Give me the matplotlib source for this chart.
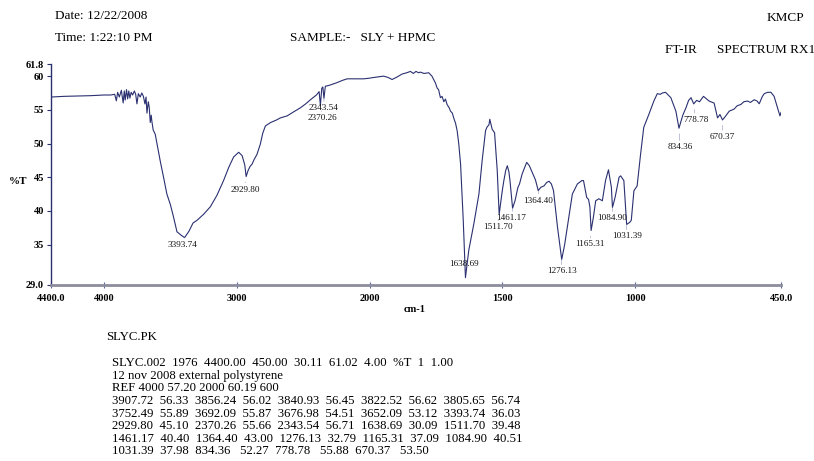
import numpy as np
import matplotlib
matplotlib.use("Agg")
import matplotlib.pyplot as plt

# FT-IR spectrum
wavenumber = [4400, 4300, 4200, 4100, 4000, 3950, 3920, 3907.72, 3898, 3885, 3870, 3856.24,
              3848, 3840.93, 3831, 3822.52, 3814, 3805.65, 3796, 3785, 3772, 3762, 3752.49,
              3742, 3728, 3716, 3704, 3692.09, 3684, 3676.98, 3667, 3660, 3652.09, 3645, 3640,
              3630, 3615, 3600, 3577, 3550, 3527, 3500, 3477, 3451, 3420, 3393.74, 3360, 3330,
              3300, 3250, 3200, 3150, 3100, 3060, 3024, 2986, 2960, 2940, 2929.80, 2915, 2900,
              2885, 2870, 2848, 2823, 2805, 2785, 2747, 2700, 2672, 2621, 2580, 2521, 2480,
              2445, 2400, 2380, 2370.26, 2360, 2352, 2343.54, 2333, 2310, 2294, 2250, 2200,
              2168, 2100, 2043, 2000, 1984, 1947, 1930, 1915, 1895, 1878, 1860, 1846, 1835,
              1825, 1815, 1809, 1795, 1777, 1765, 1752, 1745, 1740, 1733, 1727, 1720, 1714,
              1708, 1700, 1695, 1688, 1683, 1676, 1670, 1664, 1657, 1647, 1638.69, 1626, 1607,
              1588, 1576, 1563, 1558, 1550, 1547, 1542, 1538, 1529, 1519, 1511.70, 1500, 1494,
              1487, 1481, 1475, 1471, 1461.17, 1452, 1441, 1435, 1425, 1415, 1408, 1398, 1387,
              1375, 1364.40, 1355, 1343, 1333, 1324, 1315, 1307, 1292, 1276.13, 1265, 1255,
              1236, 1217, 1200, 1194, 1182, 1175, 1170, 1165.31, 1157, 1148, 1136, 1123, 1111,
              1100, 1089, 1084.90, 1075, 1060, 1054, 1042, 1031.39, 1020, 1014, 1004, 992, 979,
              967, 948, 929, 916, 905, 897, 885, 875, 865, 846, 834.36, 820, 808, 798, 789,
              778.78, 768, 757, 742, 730, 721, 702, 689, 680, 670.37, 660, 645, 627, 615, 601,
              590, 576, 565, 551, 540, 532, 520, 513, 500, 488, 476, 463, 454, 450]
transmittance = [56.9, 57.0, 57.05, 57.1, 57.2, 57.2, 57.3, 56.33, 57.6, 56.9, 57.9, 56.02,
                 57.8, 56.45, 58.0, 56.62, 57.8, 56.74, 57.6, 57.2, 57.8, 57.3, 55.89,
                 57.4, 56.9, 57.5, 57.0, 55.87, 56.9, 54.51, 56.2, 55.4, 53.12, 54.2, 53.3,
                 52.0, 51.4, 49.8, 47.4, 44.8, 42.5, 40.9, 39.1, 36.9, 36.4, 36.03, 37.0, 38.2,
                 38.6, 39.5, 40.6, 42.3, 44.5, 46.5, 48.0, 48.7, 48.2, 46.8, 45.10, 46.0, 46.6,
                 46.95, 47.6, 48.4, 49.9, 51.5, 52.6, 53.1, 53.5, 53.8, 54.1, 54.6, 55.3, 55.9,
                 56.5, 57.2, 57.7, 55.66, 58.2, 58.4, 56.71, 58.5, 58.6, 58.7, 59.0, 59.4,
                 59.6, 59.6, 59.6, 59.7, 59.8, 60.0, 59.8, 59.5, 59.9, 60.3, 60.5, 60.7, 60.4,
                 60.7, 60.5, 60.6, 60.4, 60.5, 60.0, 59.0, 58.2, 58.0, 56.8, 57.0, 56.2, 56.6,
                 55.8, 55.3, 54.8, 54.5, 53.8, 53.0, 51.9, 50.0, 46.9, 38.6, 30.09, 34.2, 38.1,
                 42.5, 47.4, 51.9, 52.4, 52.8, 53.6, 52.8, 52.1, 51.6, 46.0, 39.48, 43.0, 44.5,
                 46.0, 46.7, 45.8, 44.5, 40.40, 41.5, 43.5, 44.0, 45.5, 46.5, 47.2, 46.7, 45.7,
                 44.6, 43.00, 43.5, 43.7, 44.2, 44.4, 44.0, 43.0, 37.6, 32.79, 35.0, 37.6,
                 42.5, 44.0, 44.5, 44.5, 42.0, 41.7, 40.6, 37.09, 39.0, 41.5, 41.8, 41.5, 44.5,
                 46.1, 43.5, 40.51, 42.0, 45.0, 45.2, 44.5, 37.98, 38.3, 38.6, 43.0, 43.7, 48.4,
                 52.4, 54.3, 56.3, 57.4, 57.3, 57.5, 57.6, 57.2, 56.8, 54.8, 52.27, 54.2, 55.3, 56.4, 56.8,
                 55.88, 56.4, 56.2, 57.0, 56.6, 56.3, 56.0, 53.8, 54.3, 53.50, 54.0, 54.8, 55.1, 55.6, 55.8,
                 56.2, 56.3, 56.1, 56.5, 56.3, 55.9, 57.0, 57.4, 57.6, 57.6, 57.0, 55.3, 54.1, 54.6]

# labelled peaks
peak_wn = [3393.74, 2929.80, 2370.26, 2343.54, 1638.69, 1511.70, 1461.17, 1364.40,
           1276.13, 1165.31, 1084.90, 1031.39, 834.36, 778.78, 670.37]
peak_t = [36.03, 45.10, 55.66, 56.71, 30.09, 39.48, 40.40, 43.00,
          32.79, 37.09, 40.51, 37.98, 52.27, 55.88, 53.50]
# label offsets in pixels (dx, dy)
peak_off = [(-2, -7), (-1, -13), (2, -13), (0, -10), (-1, 14), (-1, -13), (-1, -10), (0, -10),
            (0, -12), (-1, -14), (0, -11), (0, -12), (1, -19), (2, -16), (0, -17)]

y_ticks = [29.0, 35, 40, 45, 50, 55, 60, 61.8]
y_labels = ["29.0", "35", "40", "45", "50", "55", "60", "61.8"]
x_ticks = [4400, 4000, 3000, 2000, 1500, 1000, 450]
x_labels = ["4400.0", "4000", "3000", "2000", "1500", "1000", "450.0"]

report = ("SLYC.002  1976  4400.00  450.00  30.11  61.02  4.00  %T  1  1.00\n"
          "12 nov 2008 external polystyrene\n"
          "REF 4000 57.20 2000 60.19 600\n"
          "3907.72  56.33  3856.24  56.02  3840.93  56.45  3822.52  56.62  3805.65  56.74\n"
          "3752.49  55.89  3692.09  55.87  3676.98  54.51  3652.09  53.12  3393.74  36.03\n"
          "2929.80  45.10  2370.26  55.66  2343.54  56.71  1638.69  30.09  1511.70  39.48\n"
          "1461.17  40.40  1364.40  43.00  1276.13  32.79  1165.31  37.09  1084.90  40.51\n"
          "1031.39  37.98  834.36   52.27  778.78   55.88  670.37   53.50")

plt.rcParams['font.family'] = 'Liberation Serif'
line_col = '#2a3070'


# the instrument doubles the scale below 2000 cm-1
def fwd(w):
    w = np.asarray(w, dtype=float)
    return np.where(w >= 2000, w, 2 * w - 2000)


def inv(t):
    t = np.asarray(t, dtype=float)
    return np.where(t >= 2000, t, (t + 2000) / 2)


fig = plt.figure(figsize=(8.14, 4.61), dpi=100)
ax = fig.add_axes([51 / 814, 1 - 285 / 461, 730 / 814, 221 / 461])
ax.set_xscale('function', functions=(fwd, inv))
ax.plot(wavenumber, transmittance, color=line_col, lw=0.8)
ax.set_xlim(4400, 450)
ax.set_ylim(29.0, 61.8)

for w, t, (dx, dy) in zip(peak_wn, peak_t, peak_off):
    ax.annotate(f"{w:.2f}", xy=(w, t), xytext=(dx, dy), textcoords='offset pixels',
                ha='center', va='center', fontsize=6.6, color='#111111',
                arrowprops=dict(arrowstyle='-', lw=0.4, color='#8a93b8',
                                shrinkA=0, shrinkB=4))

ax.set_yticks(y_ticks)
ax.set_yticklabels(y_labels, fontsize=7.5, fontweight='bold')
ax.set_xticks(x_ticks)
ax.set_xticklabels(x_labels, fontsize=7.5, fontweight='bold')
ax.minorticks_off()
ax.tick_params(axis='y', direction='out', length=3, width=0.8, color=line_col, pad=2)
ax.tick_params(axis='x', direction='inout', length=5, width=0.8, color='#556699', pad=4)
for s in ['top', 'right']:
    ax.spines[s].set_visible(False)
ax.spines['left'].set_color(line_col)
ax.spines['left'].set_linewidth(1.0)
ax.spines['bottom'].set_color('#8c8c9c')
ax.spines['bottom'].set_linewidth(2.0)

fig.text(18 / 814, 1 - 181 / 461, "%T", fontsize=8, fontweight='bold', ha='center', va='center')
fig.text(415 / 814, 1 - 309 / 461, "cm-1", fontsize=7.5, fontweight='bold', ha='center', va='center')

fig.text(55 / 814, 1 - 16 / 461, "Date: 12/22/2008", fontsize=9.5, va='center')
fig.text(55 / 814, 1 - 38 / 461, "Time: 1:22:10 PM", fontsize=9.5, va='center')
fig.text(290 / 814, 1 - 38 / 461, "SAMPLE:-   SLY + HPMC", fontsize=9.5, va='center')
fig.text(767 / 814, 1 - 18 / 461, "KMCP", fontsize=9.5, va='center')
fig.text(665 / 814, 1 - 50 / 461, "FT-IR      SPECTRUM RX1", fontsize=9.5, va='center')

fig.text(106 / 814, 1 - 337 / 461, "SLYC.PK", fontsize=9.2, va='center')
fig.text(112 / 814, 1 - 357 / 461, report, fontsize=9.2, va='top', linespacing=1.07)

fig.savefig("out.png", dpi=100, facecolor='white')
